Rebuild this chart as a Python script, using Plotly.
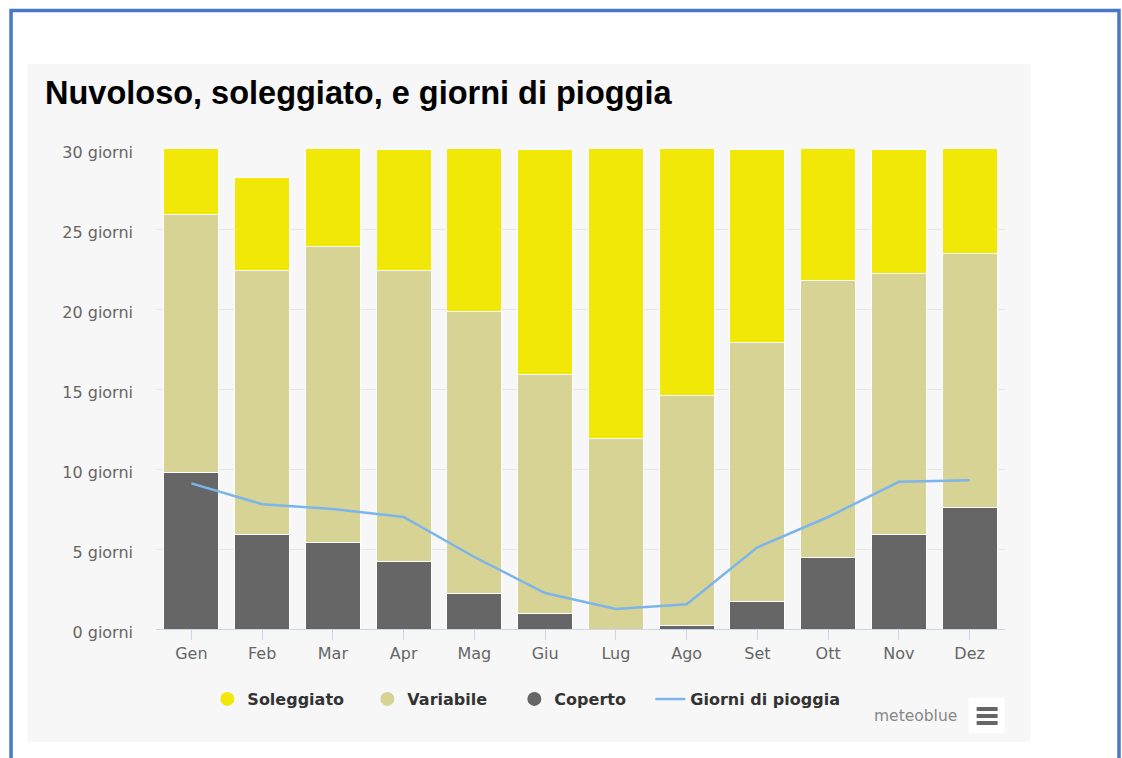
import plotly.graph_objects as go

# Monthly cloud / sun statistics (days per month)
months = ["Gen", "Feb", "Mar", "Apr", "Mag", "Giu", "Lug", "Ago", "Set", "Ott", "Nov", "Dez"]
coperto = [9.8, 5.9, 5.4, 4.2, 2.25, 1.0, 0.0, 0.2, 1.7, 4.5, 5.9, 7.6]
variabile = [16.1, 16.5, 18.5, 18.2, 17.6, 14.9, 11.9, 14.4, 16.2, 17.3, 16.35, 15.9]
soleggiato = [5.1, 5.85, 7.1, 7.6, 11.1, 14.1, 19.1, 16.4, 12.1, 9.2, 7.75, 7.5]
giorni_pioggia = [9.1, 7.8, 7.5, 7.0, 4.5, 2.25, 1.25, 1.55, 5.1, 7.0, 9.2, 9.3]

y_ticks = [0, 5, 10, 15, 20, 25, 30]
y_tick_text = ["0 giorni", "5 giorni", "10 giorni", "15 giorni", "20 giorni", "25 giorni", "30 giorni"]

C_SOLE = "#f2e807"
C_VAR = "#d7d395"
C_COP = "#666666"
C_RAIN = "#7cb5ec"

W, H = 1122, 758
ML, MR, MT, MB = 155.6, 116.6, 149, 129
PW, PH = W - ML - MR, H - MT - MB


def px_x(px):
    return (px - ML) / PW


def px_y(py):
    return (H - MB - py) / PH


fig = go.Figure()

bar_style = dict(width=0.78, marker_line_color="white", marker_line_width=1, showlegend=False,
                 hoverinfo="skip")
fig.add_trace(go.Bar(x=months, y=coperto, name="Coperto", marker_color=C_COP, **bar_style))
fig.add_trace(go.Bar(x=months, y=variabile, name="Variabile", marker_color=C_VAR, **bar_style))
fig.add_trace(go.Bar(x=months, y=soleggiato, name="Soleggiato", marker_color=C_SOLE, **bar_style))

fig.add_trace(go.Scatter(x=months, y=giorni_pioggia, mode="lines", name="Giorni di pioggia",
                         line=dict(color=C_RAIN, width=2.5), showlegend=False))

# legend entries with round symbols
for name, col, lw in [("Soleggiato", C_SOLE, 115), ("Variabile", C_VAR, 102), ("Coperto", C_COP, 91)]:
    fig.add_trace(go.Scatter(x=[None], y=[None], mode="markers", name=name,
                             marker=dict(symbol="circle", size=14, color=col), legendwidth=lw))
fig.add_trace(go.Scatter(x=[None], y=[None], mode="lines", name="Giorni di pioggia",
                         line=dict(color=C_RAIN, width=2.5), legendwidth=160))

shapes = [
    # panel background
    dict(type="rect", xref="paper", yref="paper", layer="below",
         x0=px_x(27), x1=px_x(1031), y0=px_y(742), y1=px_y(64),
         fillcolor="#f7f7f7", line=dict(width=0)),
    # outer frame
    dict(type="rect", xref="paper", yref="paper", layer="below",
         x0=px_x(10.5), x1=px_x(1119.5), y0=px_y(780), y1=px_y(10.5),
         fillcolor="rgba(0,0,0,0)", line=dict(color="#4a78c8", width=3.5)),
    # menu button
    dict(type="rect", xref="paper", yref="paper", layer="above",
         x0=px_x(969), x1=px_x(1005), y0=px_y(733), y1=px_y(698),
         fillcolor="white", line=dict(width=0)),
]
for yy in (709, 716, 723):
    shapes.append(dict(type="line", xref="paper", yref="paper", layer="above",
                       x0=px_x(977), x1=px_x(998), y0=px_y(yy), y1=px_y(yy),
                       line=dict(color="#666666", width=4)))

annotations = [
    dict(text="<b>Nuvoloso, soleggiato, e giorni di pioggia</b>", xref="paper", yref="paper",
         x=px_x(42), y=px_y(93), xanchor="left", yanchor="middle", showarrow=False,
         font=dict(family="Liberation Sans, Arial, sans-serif", size=32.5, color="#000000")),
    dict(text="meteoblue", xref="paper", yref="paper",
         x=px_x(959), y=px_y(716), xanchor="right", yanchor="middle", showarrow=False,
         font=dict(family="DejaVu Sans, sans-serif", size=15.5, color="#888888")),
]

fig.update_layout(
    width=W, height=H,
    margin=dict(l=ML, r=MR, t=MT, b=MB, pad=0),
    paper_bgcolor="white",
    plot_bgcolor="#f7f7f7",
    barmode="stack",
    bargap=0.22,
    shapes=shapes,
    annotations=annotations,
    font=dict(family="DejaVu Sans, sans-serif", color="#666666", size=16),
    legend=dict(orientation="h", x=px_x(207), y=px_y(699), xanchor="left", yanchor="middle",
                traceorder="normal",
                bgcolor="rgba(0,0,0,0)", borderwidth=0,
                font=dict(family="DejaVu Sans, sans-serif", size=16, color="#333333", weight="bold"),
                itemclick=False, itemdoubleclick=False),
    xaxis=dict(showgrid=False, showline=True, linecolor="#ccd6eb", linewidth=1,
               ticks="outside", ticklen=10, tickcolor="#ccd6eb", tickwidth=1,
               tickfont=dict(size=16, color="#666666"), fixedrange=True, zeroline=False),
    yaxis=dict(range=[0, 30], tickvals=y_ticks, ticktext=y_tick_text,
               showgrid=True, gridcolor="#e6e6e6", gridwidth=1, zeroline=False,
               showline=False, ticks="", ticklabelstandoff=22, ticklabelshift=3,
               tickfont=dict(size=16, color="#666666"), fixedrange=True),
)

fig.write_html("out.html", config={"displayModeBar": False})
